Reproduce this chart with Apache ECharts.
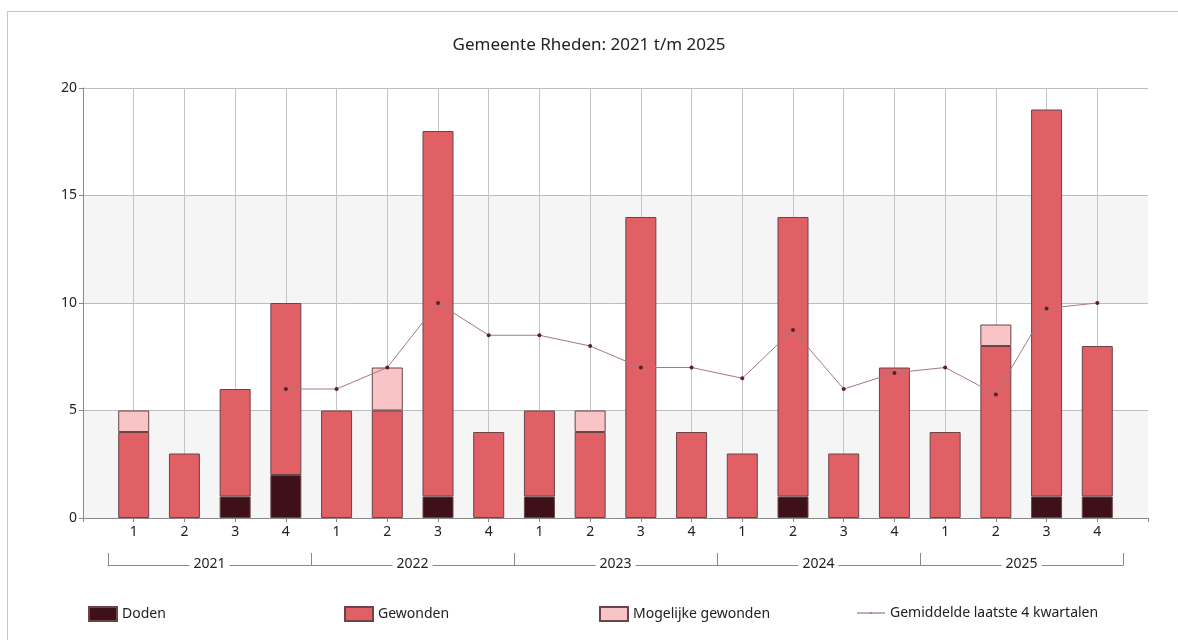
<!DOCTYPE html>
<html>
<head>
<meta charset="utf-8">
<title>Gemeente Rheden</title>
<script src="https://cdn.jsdelivr.net/npm/echarts@6/dist/echarts.min.js"></script>
<style>
    html, body { margin: 0; padding: 0; background: #fff; }
    #frame { position: absolute; left: 7px; top: 11px; width: 1200px; height: 700px; border: 1px solid #b9c9d9; }
    #chart { position: absolute; left: 0; top: 0; width: 1178px; height: 640px; }
</style>
</head>
<body>
<div id="frame"></div>
<div id="chart"></div>
<script>
// kwartalen 2021 t/m 2025
const quarters = ['1', '2', '3', '4', '1', '2', '3', '4', '1', '2', '3', '4', '1', '2', '3', '4', '1', '2', '3', '4']
const years = ['2021', '2022', '2023', '2024', '2025']
const doden = [0, 0, 1, 2, 0, 0, 1, 0, 1, 0, 0, 0, 0, 1, 0, 0, 0, 0, 1, 1]
const gewonden = [4, 3, 5, 8, 5, 5, 17, 4, 4, 4, 14, 4, 3, 13, 3, 7, 4, 8, 18, 7]
const mogelijk = [1, 0, 0, 0, 0, 2, 0, 0, 0, 1, 0, 0, 0, 0, 0, 0, 0, 1, 0, 0]
// gemiddelde laatste 4 kwartalen (pas vanaf 4e kwartaal)
const gemiddelde = [null, null, null, 6, 6, 7, 10, 8.5, 8.5, 8, 7, 7, 6.5, 8.75, 6, 6.75, 7, 5.75, 9.75, 10]
const yTicks = [0, 5, 10, 15, 20]

const font = '"Noto Sans", sans-serif'
// lege plek links en rechts van de kwartalen, zoals in het origineel
const pad = arr => [null].concat(arr, [null])
// 0 niet tekenen, anders krijg je een los randje
const bars = arr => pad(arr.map(v => (v === 0 ? '-' : v)))
const barBorder = '#6b4448'

const chart = echarts.init(document.getElementById('chart'))

const legendBase = {
    itemWidth: 28,
    itemHeight: 14,
    itemGap: 6,
    top: 601,
    textStyle: { fontSize: 14, color: '#222', fontFamily: font }
}

chart.setOption({
    animation: false,
    textStyle: { fontFamily: font },
    title: {
        text: 'Gemeente Rheden: 2021 t/m 2025',
        left: 'center',
        top: 32,
        textStyle: { fontSize: 17, fontWeight: 'normal', color: '#222', fontFamily: font }
    },
    graphic: [{
        type: 'text',
        right: 31,
        top: 89,
        style: { text: '\u00a9 2026 VIA Software', fontSize: 9, fill: '#222', fontFamily: font }
    }],
    legend: [
        Object.assign({ data: [{ name: 'Doden', icon: 'rect' }], left: 83 }, legendBase),
        Object.assign({ data: [{ name: 'Gewonden', icon: 'rect' }], left: 339 }, legendBase),
        Object.assign({ data: [{ name: 'Mogelijke gewonden', icon: 'rect' }], left: 594 }, legendBase),
        Object.assign({
            data: [{
                name: 'Gemiddelde laatste 4 kwartalen',
                icon: 'path://M0,6.5H28V7.5H0Z M13.5,6H14.5V8H13.5Z',
                itemStyle: { color: '#8a5a62' }
            }],
            left: 852
        }, legendBase)
    ],
    grid: [
        { left: 83, right: 30, top: 88, bottom: 122 },
        { left: 108, right: 55, top: 500, bottom: 75 }
    ],
    xAxis: [{
        type: 'category',
        gridIndex: 0,
        data: pad(quarters).map(q => q || ''),
        boundaryGap: false,
        axisLine: { show: true, lineStyle: { color: '#888' } },
        axisTick: { show: true, length: 4, lineStyle: { color: '#888' } },
        axisLabel: { margin: 7, fontSize: 14, color: '#222', interval: 0 },
        splitLine: { show: true, interval: 0, showMinLine: false, showMaxLine: false, lineStyle: { color: '#c4c4c4' } }
    }, {
        type: 'category',
        gridIndex: 1,
        data: years,
        position: 'bottom',
        axisLine: { show: true, lineStyle: { color: '#888' } },
        axisTick: { show: true, inside: true, length: 12, alignWithLabel: false, lineStyle: { color: '#888' } },
        axisLabel: {
            margin: -8,
            fontSize: 14,
            color: '#222',
            backgroundColor: '#fff',
            padding: [0, 4]
        },
        splitLine: { show: false }
    }],
    yAxis: [{
        type: 'value',
        gridIndex: 0,
        min: yTicks[0],
        max: yTicks[yTicks.length - 1],
        interval: 5,
        axisLine: { show: true, onZero: false, lineStyle: { color: '#888' } },
        axisTick: { show: true, length: 4, lineStyle: { color: '#888' } },
        axisLabel: { fontSize: 14, color: '#222', margin: 6 },
        splitLine: { show: true, lineStyle: { color: '#bdbdbd' } },
        splitArea: { show: true, areaStyle: { color: ['#f5f5f5', '#ffffff'] } }
    }, {
        type: 'value',
        gridIndex: 1,
        show: false
    }],
    series: [{
        name: 'Doden',
        type: 'bar',
        stack: 'slachtoffers',
        barWidth: 31,
        data: bars(doden),
        itemStyle: { color: '#3e1118', borderColor: barBorder, borderWidth: 1 }
    }, {
        name: 'Gewonden',
        type: 'bar',
        stack: 'slachtoffers',
        barWidth: 31,
        data: bars(gewonden),
        itemStyle: { color: '#e06066', borderColor: barBorder, borderWidth: 1 }
    }, {
        name: 'Mogelijke gewonden',
        type: 'bar',
        stack: 'slachtoffers',
        barWidth: 31,
        data: bars(mogelijk),
        itemStyle: { color: '#f8c4c6', borderColor: barBorder, borderWidth: 1 }
    }, {
        name: 'Gemiddelde laatste 4 kwartalen',
        type: 'line',
        data: pad(gemiddelde),
        symbol: 'circle',
        symbolSize: 4,
        connectNulls: false,
        lineStyle: { color: '#a27a80', width: 1 },
        itemStyle: { color: '#5a1f28' },
        z: 5
    }]
})
</script>
</body>
</html>
